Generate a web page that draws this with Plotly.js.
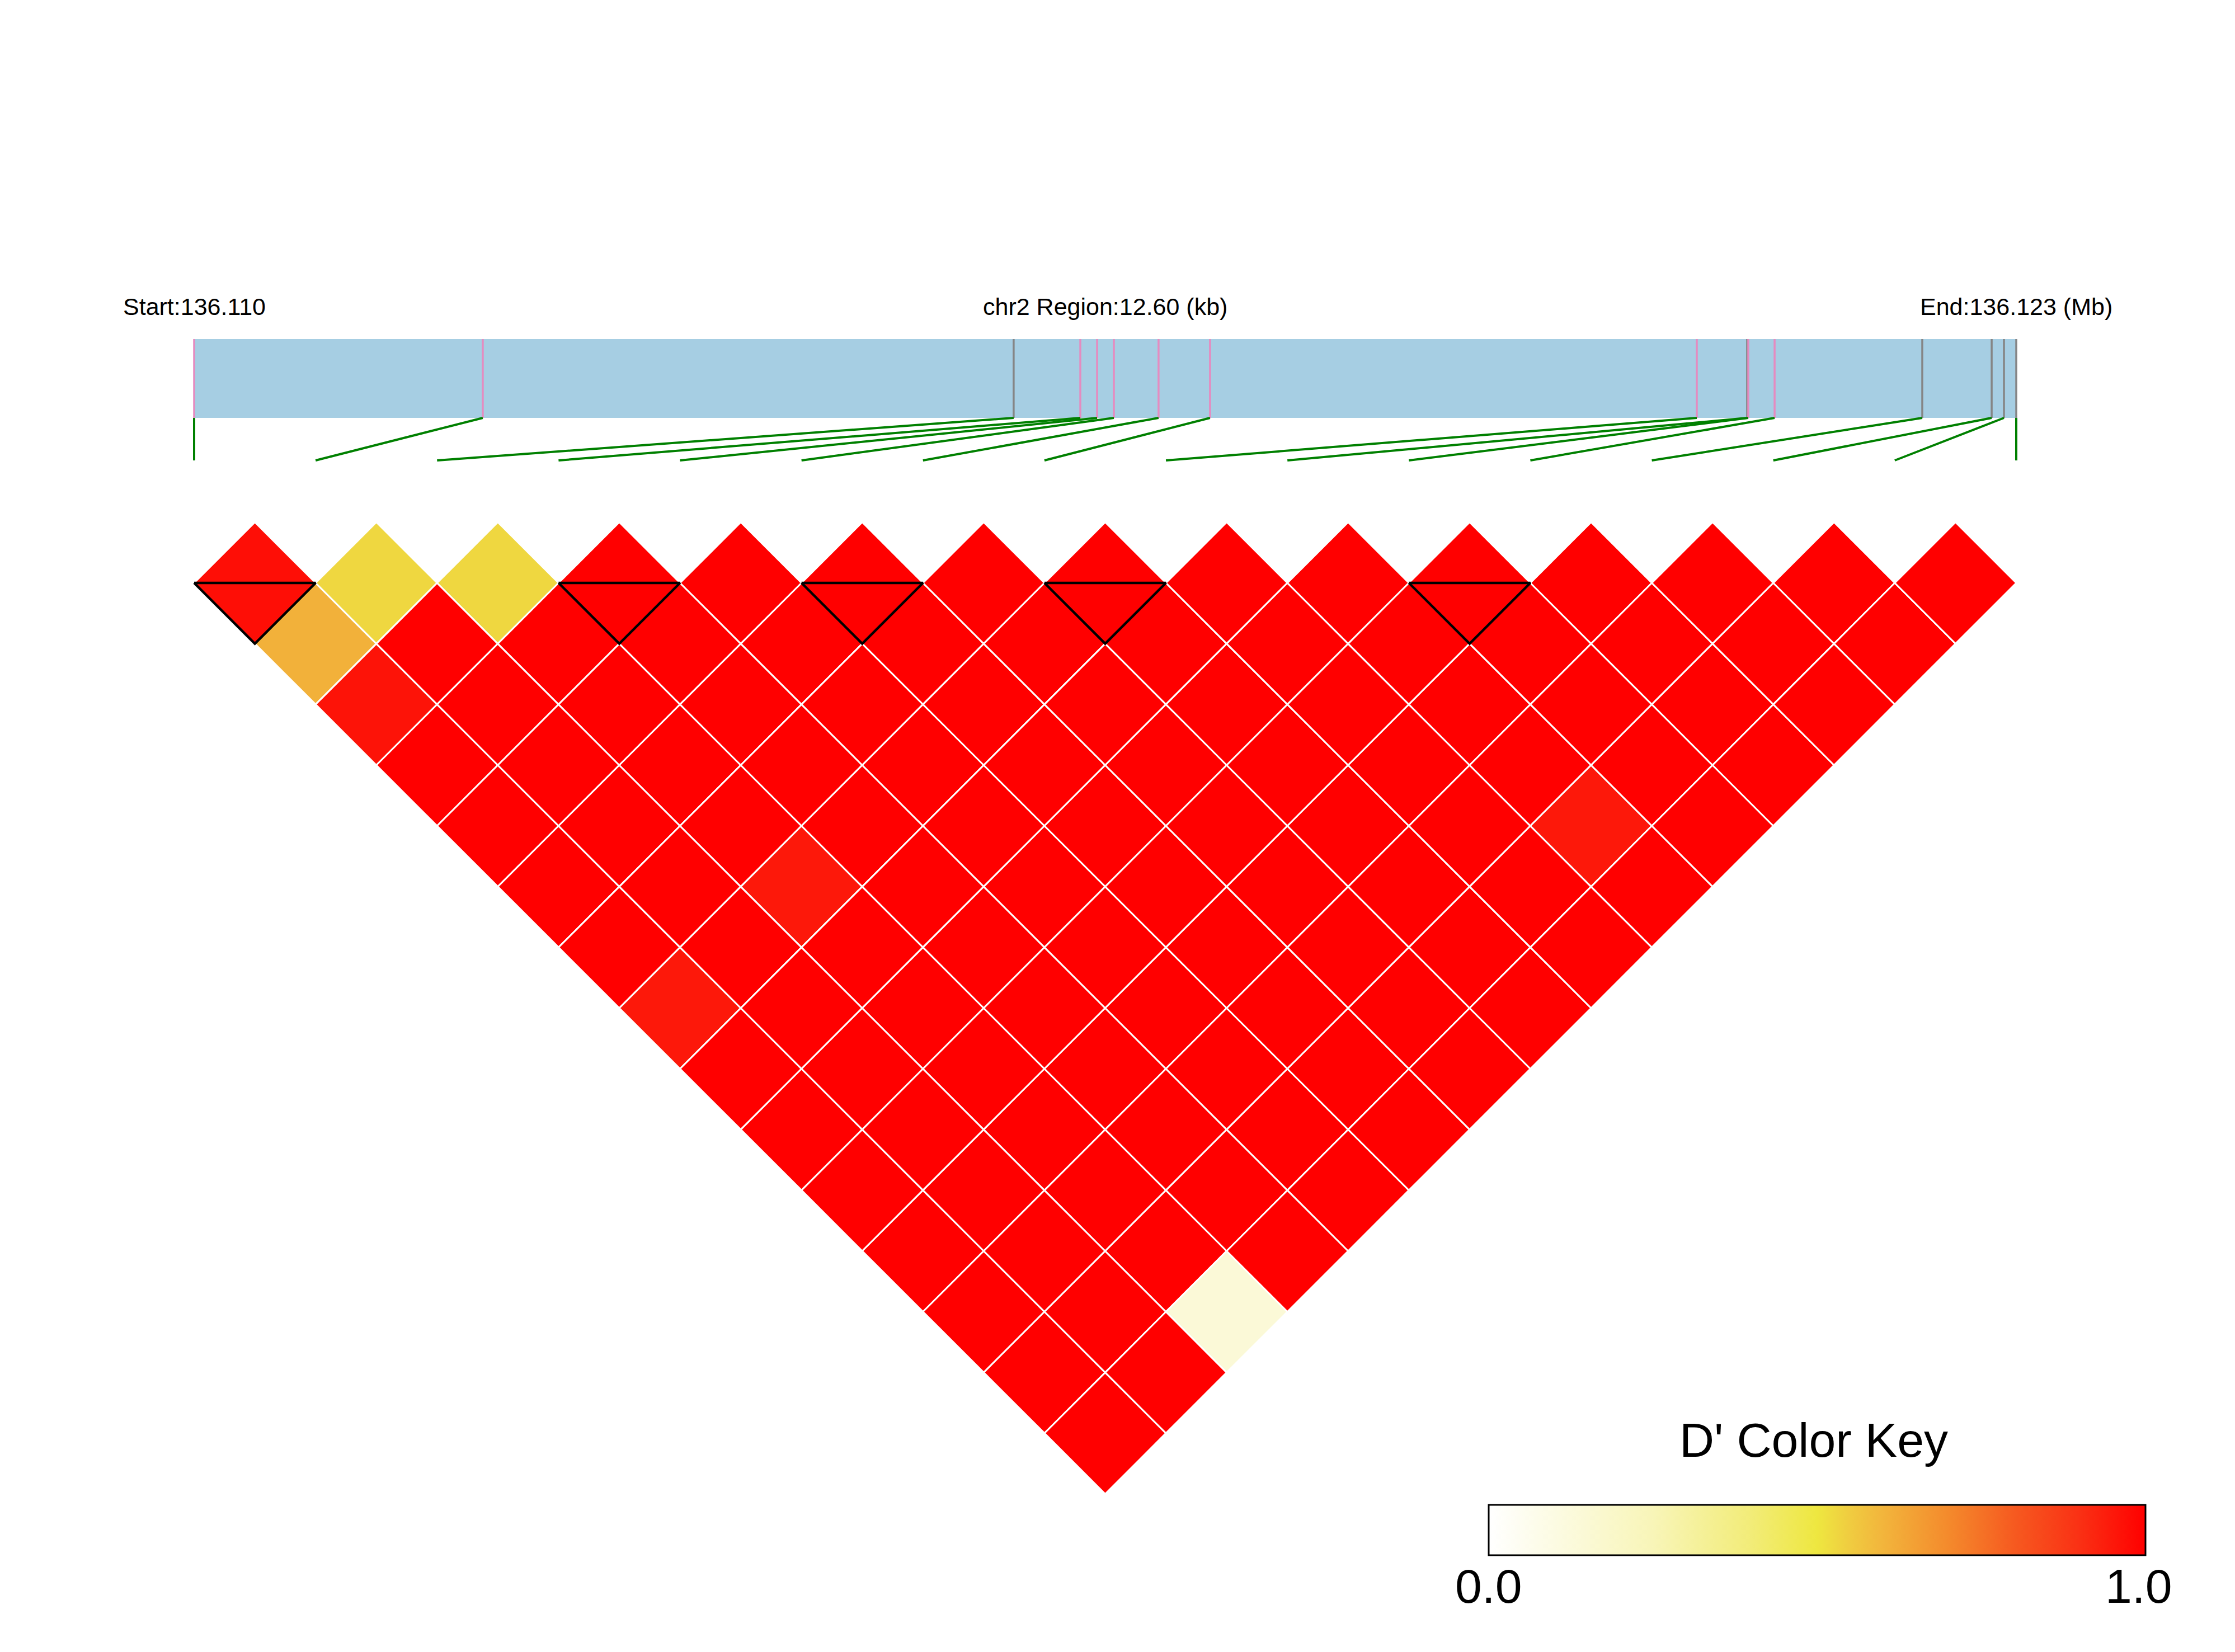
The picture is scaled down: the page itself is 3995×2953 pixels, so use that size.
<!DOCTYPE html>
<html>
<head>
<meta charset="utf-8">
<script src="https://cdn.plot.ly/plotly-3.0.1.min.js"></script>
<style>html,body{margin:0;padding:0;background:#fff;}#chart{width:3995px;height:2953px;}</style>
</head>
<body>
<div id="chart"></div>
<script>
// ---------------- data ----------------
const chrom = 'chr2';
// SNP physical positions (bp)
const snpPos = [136110300, 136112296, 136115967, 136116428, 136116544, 136116660, 136116969, 136117325,
                136120691, 136121039, 136121047, 136121229, 136122250, 136122730, 136122815, 136122900];
// marker type on the gene map (pink = 'a', grey = 'b')
const snpType = ['a','a','b','a','a','a','a','a','a','b','a','a','b','b','b','b'];
// D' values, row i holds pairs (i, j) for j = i+1 .. 15
const dprime = [
  [0.97, 0.61, 0.96, 1, 1, 1, 1, 0.95, 1, 1, 1, 1, 1, 1, 1],
  [0.53, 1, 1, 1, 1, 1, 1, 1, 1, 1, 1, 1, 1, 1],
  [0.53, 1, 1, 1, 1, 0.95, 1, 1, 1, 1, 1, 1, 0.14],
  [1, 1, 1, 1, 1, 1, 1, 1, 1, 1, 1, 1],
  [1, 1, 1, 1, 1, 1, 1, 1, 1, 1, 1],
  [1, 1, 1, 1, 1, 1, 1, 1, 1, 1],
  [1, 1, 1, 1, 1, 1, 1, 1, 1],
  [1, 1, 1, 1, 1, 1, 1, 1],
  [1, 1, 1, 1, 1, 1, 1],
  [1, 1, 1, 1, 0.95, 1],
  [1, 1, 1, 1, 1],
  [1, 1, 1, 1],
  [1, 1, 1],
  [1, 1],
  [1]
];
// haplotype blocks (first SNP, last SNP)
const blocks = [[0, 1], [3, 4], [5, 6], [7, 8], [10, 11]];
const keyTickVals = [0, 1];
const keyTickText = ['0.0', '1.0'];
const keyTitle = "D' Color Key";

// ---------------- styling / layout constants ----------------
const W = 3995, H = 2953;
const X0 = 347, UNIT = (3604 - 347) / 15, Y0 = 1042;
const KEY_L = 2661, KEY_R = 3835, KEY_T = 2690, KEY_H = 90;
const FONT = 'Liberation Sans, Arial, sans-serif';
const colorscale = [
  [0.0, '#ffffff'], [0.25, '#f8f5b8'], [0.4, '#f2ec78'], [0.5, '#eee740'],
  [0.55, '#f0cc40'], [0.6, '#f2b53c'], [0.7, '#f48a2c'], [0.8, '#f65a20'],
  [0.9, '#fa3014'], [1.0, '#ff0000']
];
const typeColor = {a: '#e58bc0', b: '#858585'};
const pyToY = p => (Y0 - p) / UNIT;
const BAR_TOP = pyToY(606), BAR_BOT = pyToY(747), LINK_BOT = pyToY(823), TEXT_Y = pyToY(548);

function hexToRgb(h){ return [1,3,5].map(k => parseInt(h.substr(k,2),16)); }
function colorAt(v){
  for (let k = 1; k < colorscale.length; k++){
    const [v1, c1] = colorscale[k-1], [v2, c2] = colorscale[k];
    if (v <= v2){
      const t = (v - v1) / (v2 - v1);
      const a = hexToRgb(c1), b = hexToRgb(c2);
      const c = a.map((x, m) => Math.round(x + (b[m] - x) * t));
      return `rgb(${c[0]},${c[1]},${c[2]})`;
    }
  }
  return colorscale[colorscale.length-1][1];
}

const n = snpPos.length;
const traces = [];
const cx = [], cy = [], cv = [];
dprime.forEach((row, i) => {
  row.forEach((v, k) => {
    const j = i + 1 + k;
    const x = (i + j) / 2, y = -(j - i - 1) / 2;
    cx.push(x); cy.push(y); cv.push(v);
    traces.push({
      type: 'scatter', mode: 'lines', fill: 'toself', fillcolor: colorAt(v),
      x: [x - 0.5, x, x + 0.5, x, x - 0.5], y: [y, y + 0.5, y, y - 0.5, y],
      line: {color: '#ffffff', width: 3}, hoverinfo: 'skip', showlegend: false
    });
  });
});
// blocks
blocks.forEach(([a, b]) => {
  traces.push({
    type: 'scatter', mode: 'lines',
    x: [a, b, (a + b) / 2, a], y: [0, 0, -(b - a) / 2, 0],
    line: {color: '#000000', width: 4.5}, hoverinfo: 'skip', showlegend: false
  });
});
// gene map
const p0 = snpPos[0], pN = snpPos[n - 1];
const mapX = p => (p - p0) / (pN - p0) * (n - 1);
snpPos.forEach((p, k) => {
  traces.push({
    type: 'scatter', mode: 'lines', x: [mapX(p), mapX(p)], y: [BAR_TOP, BAR_BOT],
    line: {color: typeColor[snpType[k]], width: 3.5}, hoverinfo: 'skip', showlegend: false
  });
  traces.push({
    type: 'scatter', mode: 'lines', x: [mapX(p), k], y: [BAR_BOT, LINK_BOT],
    line: {color: '#008000', width: 4}, hoverinfo: 'skip', showlegend: false
  });
});
// colour key (attached to the D' values)
traces.push({
  type: 'scatter', mode: 'markers', x: cx, y: cy, hoverinfo: 'skip', showlegend: false,
  marker: {
    color: cv, colorscale: colorscale, cmin: 0, cmax: 1, opacity: 0, size: 1, showscale: true,
    colorbar: {
      orientation: 'h', lenmode: 'pixels', len: KEY_R - KEY_L, thicknessmode: 'pixels', thickness: KEY_H,
      x: (KEY_L + KEY_R) / 2 / W, xanchor: 'center', y: 1 - KEY_T / H, yanchor: 'top', xpad: 0, ypad: 0,
      outlinecolor: '#000000', outlinewidth: 3, ticks: '', showticklabels: false,
      tickvals: keyTickVals
    }
  }
});

// key tick labels placed under the bar at their values
const keyLabels = keyTickVals.map((v, k) => ({
  x: (KEY_L + v * (KEY_R - KEY_L) - v * 12) / W, y: 1 - 2835 / H, xref: 'paper', yref: 'paper',
  showarrow: false, xanchor: 'center', yanchor: 'middle', text: keyTickText[k],
  font: {family: FONT, size: 86, color: '#000'}
}));

const layout = {
  width: W, height: H, margin: {l: 0, r: 0, t: 0, b: 0},
  paper_bgcolor: '#ffffff', plot_bgcolor: '#ffffff', showlegend: false,
  xaxis: {range: [-X0 / UNIT, (W - X0) / UNIT], visible: false, fixedrange: true},
  yaxis: {range: [-(H - Y0) / UNIT, Y0 / UNIT], visible: false, fixedrange: true},
  shapes: [{
    type: 'rect', xref: 'x', yref: 'y', x0: 0, x1: n - 1, y0: BAR_BOT, y1: BAR_TOP,
    fillcolor: '#a6cee3', line: {width: 0}, layer: 'below'
  }],
  annotations: [
    {x: 0, y: TEXT_Y, xref: 'x', yref: 'y', showarrow: false, xanchor: 'center', yanchor: 'middle',
     text: `Start:${(p0 / 1e6).toFixed(3)}`, font: {family: FONT, size: 43, color: '#000'}},
    {x: (n - 1) / 2, y: TEXT_Y, xref: 'x', yref: 'y', showarrow: false, xanchor: 'center', yanchor: 'middle',
     text: `${chrom} Region:${((pN - p0) / 1000).toFixed(2)} (kb)`, font: {family: FONT, size: 43, color: '#000'}},
    {x: n - 1, y: TEXT_Y, xref: 'x', yref: 'y', showarrow: false, xanchor: 'center', yanchor: 'middle',
     text: `End:${(pN / 1e6).toFixed(3)} (Mb)`, font: {family: FONT, size: 43, color: '#000'}},
    {x: 3242 / W, y: 1 - 2574 / H, xref: 'paper', yref: 'paper', showarrow: false, xanchor: 'center', yanchor: 'middle',
     text: keyTitle, font: {family: FONT, size: 86, color: '#000'}}
  ].concat(keyLabels)
};

Plotly.newPlot('chart', traces, layout, {staticPlot: true, displayModeBar: false});
</script>
</body>
</html>
